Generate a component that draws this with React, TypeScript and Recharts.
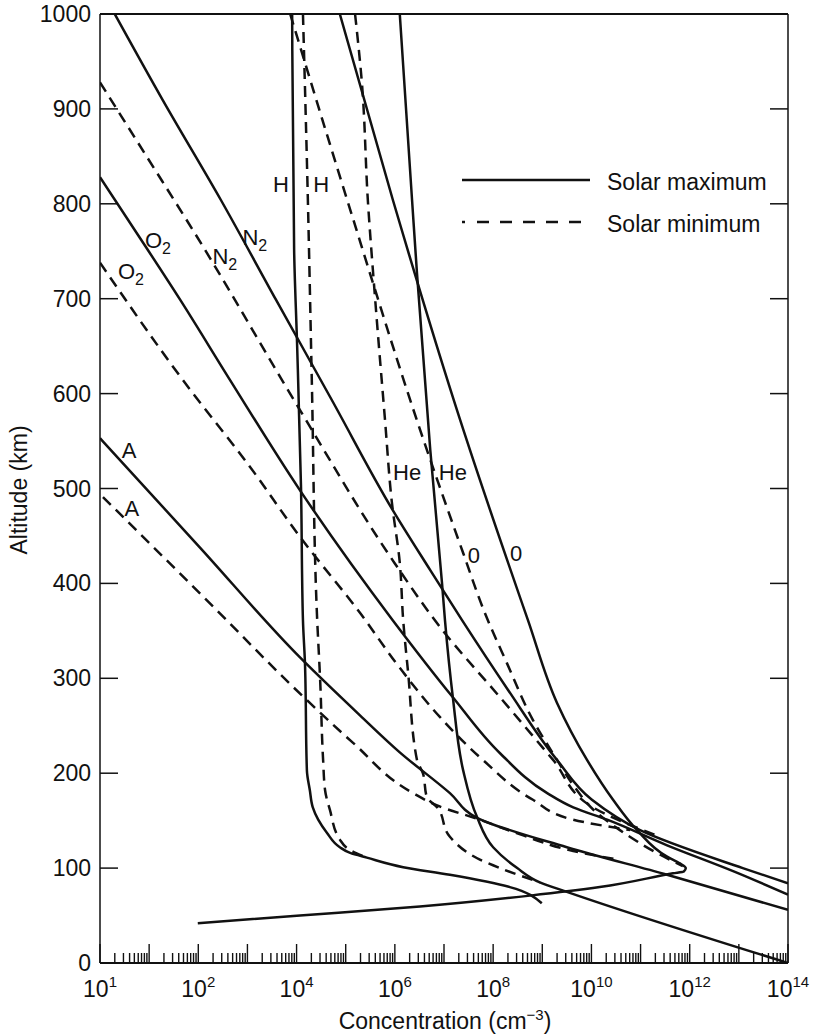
import React from 'react';
import { LineChart, Line, XAxis, YAxis, ReferenceDot } from 'recharts';

// every curve is a list of [log10 concentration, altitude in km]
type Pt = [number, number];

const n2Max: Pt[] = [[0.3, 1000], [1.28, 909], [2.46, 804], [3.58, 699], [4.72, 593], [5.96, 477], [6.72, 414], [7.37, 361], [8.3, 288], [9.3, 214], [10.01, 172], [10.99, 140], [13.08, 100], [14, 84]];
const n2Min: Pt[] = [[0, 928], [0.96, 849], [1.93, 769], [4.03, 586], [6.0, 421], [6.92, 354], [8.14, 280], [9.22, 214], [10.03, 164], [11.4, 133]];
const o2Max: Pt[] = [[0, 828], [0.75, 769], [1.63, 699], [2.65, 614], [4.07, 498], [5.96, 361], [7.18, 280], [8.14, 221], [9.1, 179], [9.63, 164], [10.32, 151], [11.54, 124], [12.92, 96], [14, 72]];
const o2Min: Pt[] = [[0, 738], [1.69, 614], [3.05, 523], [4.07, 449], [5.29, 369], [6.1, 311], [6.92, 259], [7.79, 214], [8.81, 172], [9.63, 151], [10.79, 140]];
const oMax: Pt[] = [[4.88, 1000], [5.96, 804], [7.33, 572], [8.71, 361], [9.3, 274], [9.91, 214], [10.44, 172], [10.93, 140], [11.54, 112], [11.8, 105], [11.92, 100], [11.88, 96.5], [11.66, 94.5], [10.17, 80], [8.75, 71], [6.51, 59.5], [4.07, 50], [1.99, 42]];
const oMin: Pt[] = [[3.87, 1000], [5.03, 804], [6.65, 541], [7.39, 432], [7.83, 369], [8.28, 316], [8.81, 256], [9.3, 214], [9.65, 186], [10.05, 161], [10.58, 140], [11.33, 116], [11.86, 102]];
const heMax: Pt[] = [[6.1, 1000], [6.35, 804], [6.45, 727], [6.72, 541], [6.96, 400], [7.02, 361], [7.18, 280], [7.39, 203], [7.67, 154], [8.0, 122], [8.49, 100], [8.95, 85], [9.5, 75], [14, 0]];
const heMin: Pt[] = [[5.19, 1000], [5.33, 927], [5.45, 804], [5.6, 699], [5.8, 572], [5.94, 485], [6.1, 422], [6.17, 361], [6.27, 306], [6.45, 214], [6.57, 200], [6.65, 175], [6.86, 164], [7.12, 133], [7.73, 109], [8.14, 100], [8.95, 85]];
const hMax: Pt[] = [[3.91, 1000], [3.95, 752], [4.01, 653], [4.09, 502], [4.13, 361], [4.17, 317], [4.21, 203], [4.27, 182], [4.33, 164], [4.44, 151], [4.62, 137], [4.88, 122], [5.09, 116], [5.43, 111], [6.17, 101], [7.12, 93], [8.34, 80], [8.99, 63]];
const hMin: Pt[] = [[4.13, 1000], [4.23, 804], [4.31, 614], [4.42, 361], [4.48, 298], [4.54, 214], [4.58, 182], [4.68, 161], [4.88, 130], [5.09, 119], [5.39, 112]];
const arMax: Pt[] = [[0, 553], [2.03, 438], [4.07, 322], [5.29, 261], [6.1, 222], [7.12, 179], [7.67, 153], [9.5, 122], [11.54, 93], [14, 56]];
const arMin: Pt[] = [[0.06, 491], [2.14, 384], [4.21, 277], [5.15, 232], [6.37, 179], [6.86, 166], [7.73, 151], [8.55, 135.5], [9.63, 118], [10.58, 108.5]];

const series = [
  { key: 'n2Max', data: n2Max, dashed: false },
  { key: 'n2Min', data: n2Min, dashed: true },
  { key: 'o2Max', data: o2Max, dashed: false },
  { key: 'o2Min', data: o2Min, dashed: true },
  { key: 'oMax', data: oMax, dashed: false },
  { key: 'oMin', data: oMin, dashed: true },
  { key: 'heMax', data: heMax, dashed: false },
  { key: 'heMin', data: heMin, dashed: true },
  { key: 'hMax', data: hMax, dashed: false },
  { key: 'hMin', data: hMin, dashed: true },
  { key: 'arMax', data: arMax, dashed: false },
  { key: 'arMin', data: arMin, dashed: true },
];

// curve labels, placed in data coordinates
const curveLabels = [
  { x: 3.15, y: 765, text: 'N', sub: '2' },
  { x: 2.54, y: 745, text: 'N', sub: '2' },
  { x: 1.18, y: 762, text: 'O', sub: '2' },
  { x: 0.63, y: 729, text: 'O', sub: '2' },
  { x: 3.68, y: 821, text: 'H', sub: '' },
  { x: 4.5, y: 821, text: 'H', sub: '' },
  { x: 6.25, y: 517, text: 'He', sub: '' },
  { x: 7.18, y: 517, text: 'He', sub: '' },
  { x: 7.61, y: 430, text: '0', sub: '' },
  { x: 8.47, y: 432, text: '0', sub: '' },
  { x: 0.59, y: 541, text: 'A', sub: '' },
  { x: 0.65, y: 479, text: 'A', sub: '' },
];

const altTicks = [0, 100, 200, 300, 400, 500, 600, 700, 800, 900, 1000];
const xLabelPos = [0, 2, 4, 6, 8, 10, 12, 14];
const xLabelExp = ['1', '2', '4', '6', '8', '10', '12', '14'];

const logTicks: number[] = [];
for (let d = 0; d < 14; d++) for (let k = 1; k <= 9; k++) logTicks.push(d + Math.log10(k));
logTicks.push(14);

const FONT = '"Liberation Sans", Arial, Helvetica, sans-serif';
const INK = '#111';

const isMajor = (v: number) => Math.abs(v - Math.round(v)) < 1e-6;

const BottomTick = ({ x, y, payload }: any) => {
  const v = payload.value;
  const major = isMajor(v);
  const i = major ? xLabelPos.indexOf(Math.round(v)) : -1;
  return (
    <g>
      <line x1={x} x2={x} y1={y} y2={y - (major ? 19 : 10)} stroke={INK} strokeWidth={1.4} />
      {i >= 0 && (
        <text x={x} y={y + 34} textAnchor="middle" fontSize={23} fontFamily={FONT} fill={INK}>
          10<tspan dy={-10} fontSize={15}>{xLabelExp[i]}</tspan>
        </text>
      )}
    </g>
  );
};

const TopTick = ({ x, y, payload }: any) => (
  <line x1={x} x2={x} y1={y} y2={y + (isMajor(payload.value) ? 19 : 10)} stroke={INK} strokeWidth={1.4} />
);

const LeftTick = ({ x, y, payload }: any) => (
  <g>
    <line x1={x} x2={x + 18} y1={y} y2={y} stroke={INK} strokeWidth={1.5} />
    <text x={x - 9} y={y + 8} textAnchor="end" fontSize={23} fontFamily={FONT} fill={INK}>
      {payload.value}
    </text>
  </g>
);

const RightTick = ({ x, y }: any) => (
  <line x1={x} x2={x - 18} y1={y} y2={y} stroke={INK} strokeWidth={1.5} />
);

const CurveLabel = (lab: { text: string; sub: string }) => (props: any) => (
  <text x={props.cx} y={props.cy + 8} textAnchor="middle" fontSize={22} fontFamily={FONT} fill={INK}>
    {lab.text}
    {lab.sub && <tspan dy={6} fontSize={16}>{lab.sub}</tspan>}
  </text>
);

export default function App() {
  return (
    <div style={{ position: 'absolute', left: 0, top: 0, width: 816, height: 1036, background: '#fff' }}>
      <LineChart width={816} height={1036} margin={{ top: 0, right: 0, bottom: 0, left: 0 }}>
        <XAxis
          type="number"
          dataKey="x"
          domain={[0, 14]}
          ticks={logTicks}
          interval={0}
          height={73}
          tickSize={0}
          tickMargin={0}
          tick={<BottomTick />}
          axisLine={{ stroke: INK, strokeWidth: 2.2 }}
          allowDataOverflow
        />
        <XAxis
          xAxisId="top"
          orientation="top"
          type="number"
          domain={[0, 14]}
          ticks={logTicks}
          interval={0}
          height={14}
          tickSize={0}
          tickMargin={0}
          tick={<TopTick />}
          axisLine={{ stroke: INK, strokeWidth: 2 }}
          allowDataOverflow
        />
        <YAxis
          type="number"
          domain={[0, 1000]}
          ticks={altTicks}
          interval={0}
          width={100}
          tickSize={0}
          tickMargin={0}
          tick={<LeftTick />}
          axisLine={{ stroke: INK, strokeWidth: 1.5 }}
          allowDataOverflow
        />
        <YAxis
          yAxisId="right"
          orientation="right"
          type="number"
          domain={[0, 1000]}
          ticks={altTicks}
          interval={0}
          width={28}
          tickSize={0}
          tickMargin={0}
          tick={<RightTick />}
          axisLine={{ stroke: INK, strokeWidth: 1.5 }}
          allowDataOverflow
        />
        {series.map((s) => (
          <Line
            key={s.key}
            data={s.data.map(([x, y]) => ({ x, y }))}
            dataKey="y"
            type="monotoneY"
            stroke={INK}
            strokeWidth={2.5}
            strokeDasharray={s.dashed ? '11 7' : undefined}
            dot={false}
            activeDot={false}
            isAnimationActive={false}
          />
        ))}
        {curveLabels.map((lab, i) => (
          <ReferenceDot key={i} x={lab.x} y={lab.y} r={0} shape={CurveLabel(lab)} />
        ))}
      </LineChart>
      <svg width={816} height={1036} style={{ position: 'absolute', left: 0, top: 0, pointerEvents: 'none' }}>
        <g fontFamily={FONT} fill={INK}>
          <line x1={462} x2={590} y1={180} y2={180} stroke={INK} strokeWidth={2.5} />
          <text x={607} y={190} fontSize={23}>Solar maximum</text>
          <line x1={462} x2={465} y1={222} y2={222} stroke={INK} strokeWidth={2.5} />
          <line x1={477} x2={590} y1={222} y2={222} stroke={INK} strokeWidth={2.5} strokeDasharray="12 11" />
          <text x={607} y={232} fontSize={23}>Solar minimum</text>
          <text x={27} y={490} fontSize={23} textAnchor="middle" transform="rotate(-90 27 490)">Altitude (km)</text>
          <text x={445} y={1029} fontSize={23} textAnchor="middle">
            Concentration (cm<tspan dy={-9} fontSize={15}>−3</tspan><tspan dy={9}>)</tspan>
          </text>
        </g>
      </svg>
    </div>
  );
}
